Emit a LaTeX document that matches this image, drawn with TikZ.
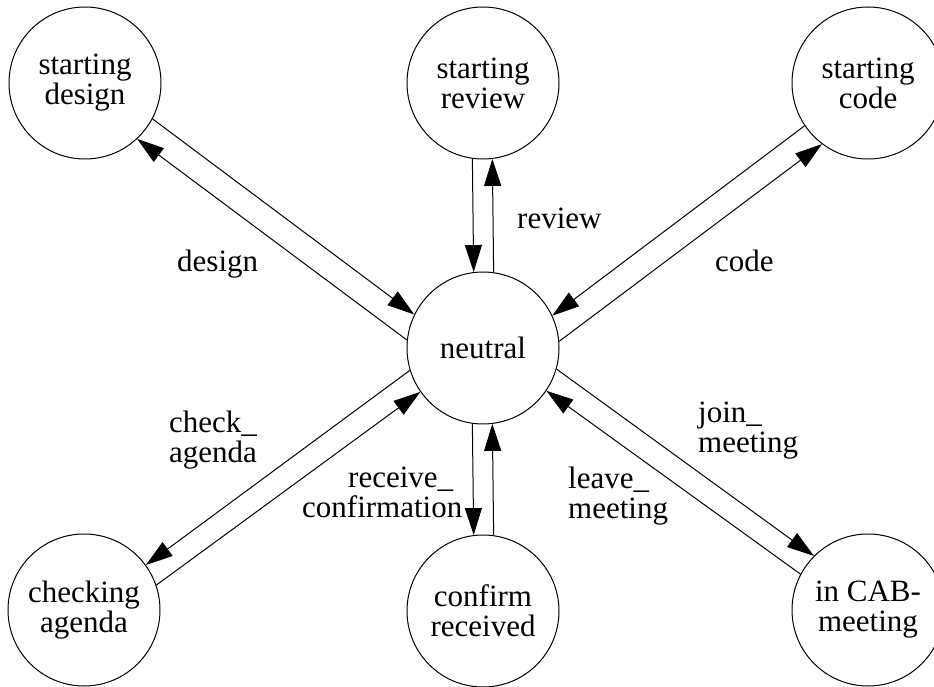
\documentclass[tikz,border=0pt]{standalone}
\usepackage{fontspec}
\setmainfont{Liberation Serif}
\usetikzlibrary{arrows.meta}
\begin{document}
\begin{tikzpicture}[x=1pt,y=1pt,
  state/.style={circle,draw,line width=1pt,minimum size=152pt,inner sep=0pt,align=center,font=\fontsize{31}{30}\selectfont},
  lbl/.style={align=left,font=\fontsize{31}{30}\selectfont,inner sep=0pt},
  tr/.style={line width=1pt,-{Triangle[length=27pt,width=17pt]}}]
\useasboundingbox (0,0) rectangle (934,686);
\node[state] (sd) at (85,603) {starting\\design};
\node[state] (sr) at (483,603) {starting\\review};
\node[state] (sc) at (868,603) {starting\\code};
\node[state] (n) at (483,338) {neutral};
\node[state] (ca) at (84,76) {checking\\agenda};
\node[state] (cr) at (483,75) {confirm\\received};
\node[state] (cab) at (868,76) {in CAB-\\meeting};
% design
\draw[tr] (sd.-28.4) -- (n.154.1);
\draw[tr] (n.174.1) -- (sd.-47.8);
% review
\draw[tr] (sr.262.1) -- (n.97.9);
\draw[tr] (n.82.1) -- (sr.277.9);
% code
\draw[tr] (sc.214.1) -- (n.25.4);
\draw[tr] (n.5.1) -- (sc.233.2);
% check agenda
\draw[tr] (n.197.1) -- (ca.36.4);
\draw[tr] (ca.19) -- (n.215.5);
% receive confirmation
\draw[tr] (n.262.1) -- (cr.97.9);
\draw[tr] (cr.82.1) -- (n.277.9);
% meeting
\draw[tr] (n.-16.6) -- (cab.135);
\draw[tr] (cab.152.8) -- (n.-34.5);
% labels
\node[lbl,anchor=base west] (ldesign) at (177,414) {design};
\node[lbl,anchor=base west] (lreview) at (517,457) {review};
\node[lbl,anchor=base west] (lcode) at (715,414) {code};
\node[lbl,anchor=north west] (lcheck) at (169,275) {check\_\\agenda};
\node[lbl,anchor=north west] (lrecv) at (302,219) {\hspace*{46pt}receive\_\\confirmation};
\node[lbl,anchor=north west] (lleave) at (568,219) {leave\_\\meeting};
\node[lbl,anchor=north west] (ljoin) at (698,284) {join\_\\meeting};
\end{tikzpicture}
\end{document}
